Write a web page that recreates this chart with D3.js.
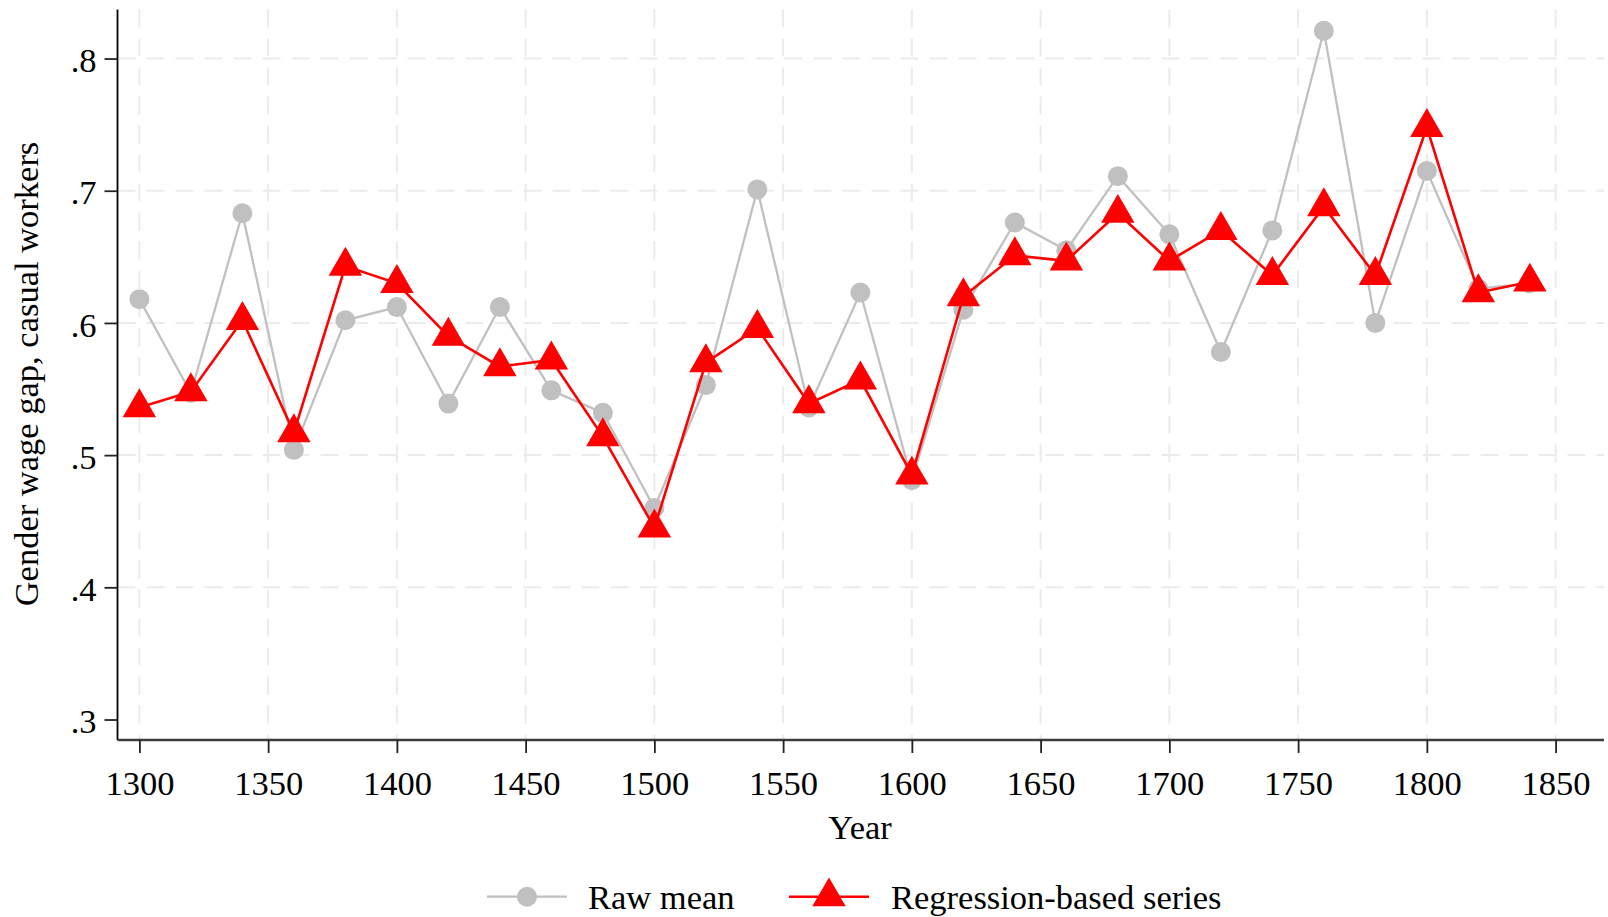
<!DOCTYPE html>
<html>
<head>
<meta charset="utf-8">
<script src="https://cdn.jsdelivr.net/npm/d3@7"></script>
<style>
  html, body { margin: 0; padding: 0; background: #fff; }
  svg text { font-family: "Liberation Serif", "Times New Roman", serif; fill: #000; }
</style>
</head>
<body>
<div class="chart"></div>
<script>
// Data.
let years = [1300, 1320, 1340, 1360, 1380, 1400, 1420, 1440, 1460, 1480,
             1500, 1520, 1540, 1560, 1580, 1600, 1620, 1640, 1660, 1680,
             1700, 1720, 1740, 1760, 1780, 1800, 1820, 1840];

let rawMean = [.618, .547, .683, .504, .602, .612, .539, .612, .549, .532,
               .460, .553, .701, .536, .623, .481, .610, .676, .655, .711,
               .667, .578, .670, .821, .600, .715, .626, .630];

let regression = [.536, .548, .602, .517, .643, .630, .590, .567, .572, .514,
                  .445, .570, .596, .539, .557, .485, .620, .651, .647, .683,
                  .647, .670, .636, .688, .636, .748, .623, .631];

let xTicks = [1300, 1350, 1400, 1450, 1500, 1550, 1600, 1650, 1700, 1750, 1800, 1850];
let yTicks = [.3, .4, .5, .6, .7, .8];
let yGrid = [.4, .5, .6, .7, .8];

// Build constants.
let width = 1608,
    height = 917,
    plot = {left: 117.5, right: 1604, top: 9.5, bottom: 740},
    fontSize = 34.5,
    serif = '"Liberation Serif", "Times New Roman", serif',
    grey = '#c0c0c0',
    red = '#ff0000';

let svg = d3.select('.chart')
    .append('svg')
        .attr('width', width)
        .attr('height', height);

// Scales.
let x = d3.scaleLinear()
    .domain([1291.5, 1868.8])
    .range([plot.left, plot.right]);

let y = d3.scaleLinear()
    .domain([0.2845, 0.8371])
    .range([plot.bottom, plot.top]);

// Grid.
svg.append('g')
    .selectAll('line')
    .data(yGrid)
    .join('line')
        .attr('x1', plot.left)
        .attr('x2', plot.right)
        .attr('y1', d => y(d))
        .attr('y2', d => y(d))
        .attr('stroke', '#ebebeb')
        .attr('stroke-width', 2)
        .attr('stroke-dasharray', '18,11');

svg.append('g')
    .selectAll('line')
    .data(xTicks)
    .join('line')
        .attr('x1', d => x(d))
        .attr('x2', d => x(d))
        .attr('y1', plot.top)
        .attr('y2', plot.bottom)
        .attr('stroke', '#ebebeb')
        .attr('stroke-width', 2)
        .attr('stroke-dasharray', '18,11');

// Axes.
let yAxis = svg.append('g')
    .attr('transform', `translate(${plot.left},0)`)
    .call(d3.axisLeft(y)
        .tickValues(yTicks)
        .tickSize(13)
        .tickPadding(8)
        .tickFormat(d => d3.format('.1f')(d).replace(/^0/, '')))
    .attr('font-family', serif)
    .attr('font-size', fontSize);

yAxis.select('.domain')
    .attr('d', `M0,${plot.top}V${plot.bottom}`)
    .attr('stroke', '#000')
    .attr('stroke-width', 1.8);
yAxis.selectAll('.tick line').attr('stroke', '#222').attr('stroke-width', 1.8);
yAxis.selectAll('.tick text')
    .attr('dy', '0.38em');

let xAxis = svg.append('g')
    .attr('transform', `translate(0,${plot.bottom})`)
    .call(d3.axisBottom(x)
        .tickValues(xTicks)
        .tickSize(13)
        .tickFormat(d3.format('d')))
    .attr('font-family', serif)
    .attr('font-size', fontSize);

xAxis.select('.domain')
    .attr('d', `M${plot.left},0H${plot.right}`)
    .attr('stroke', '#3c3c3c')
    .attr('stroke-width', 2.6);
xAxis.selectAll('.tick line').attr('stroke', '#222').attr('stroke-width', 1.8);
xAxis.selectAll('.tick text')
    .attr('dy', null)
    .attr('y', 55);

// Axis titles.
svg.append('text')
    .attr('transform', `translate(38, 374) rotate(-90)`)
    .attr('text-anchor', 'middle')
    .attr('font-size', fontSize)
    .text('Gender wage gap, casual workers');

svg.append('text')
    .attr('x', 860)
    .attr('y', 839)
    .attr('text-anchor', 'middle')
    .attr('font-size', fontSize)
    .text('Year');

// Series.
let rawData = years.map((d, i) => ({year: d, value: rawMean[i]}));
let regData = years.map((d, i) => ({year: d, value: regression[i]}));

let line = d3.line()
    .x(d => x(d.year))
    .y(d => y(d.value));

let triangle = d3.symbol().type(d3.symbolTriangle).size(485);

svg.append('path')
    .datum(rawData)
    .attr('d', line)
    .attr('fill', 'none')
    .attr('stroke', grey)
    .attr('stroke-width', 2.3);

svg.append('g')
    .selectAll('circle')
    .data(rawData)
    .join('circle')
        .attr('cx', d => x(d.year))
        .attr('cy', d => y(d.value))
        .attr('r', 10)
        .attr('fill', grey);

svg.append('path')
    .datum(regData)
    .attr('d', line)
    .attr('fill', 'none')
    .attr('stroke', red)
    .attr('stroke-width', 2.6);

svg.append('g')
    .selectAll('path')
    .data(regData)
    .join('path')
        .attr('d', triangle)
        .attr('transform', d => `translate(${x(d.year)},${y(d.value)})`)
        .attr('fill', red);

// Legend.
let legendY = 896.7;
let legend = svg.append('g');

legend.append('line')
    .attr('x1', 487).attr('x2', 567)
    .attr('y1', legendY).attr('y2', legendY)
    .attr('stroke', grey).attr('stroke-width', 2.3);
legend.append('circle')
    .attr('cx', 527).attr('cy', legendY).attr('r', 10)
    .attr('fill', grey);
legend.append('text')
    .attr('x', 588).attr('y', 908.5)
    .attr('font-size', fontSize)
    .text('Raw mean');

legend.append('line')
    .attr('x1', 789).attr('x2', 869)
    .attr('y1', legendY).attr('y2', legendY)
    .attr('stroke', red).attr('stroke-width', 2.6);
legend.append('path')
    .attr('d', triangle)
    .attr('transform', `translate(829,${legendY})`)
    .attr('fill', red);
legend.append('text')
    .attr('x', 891).attr('y', 908.5)
    .attr('font-size', fontSize)
    .text('Regression-based series');
</script>
</body>
</html>
